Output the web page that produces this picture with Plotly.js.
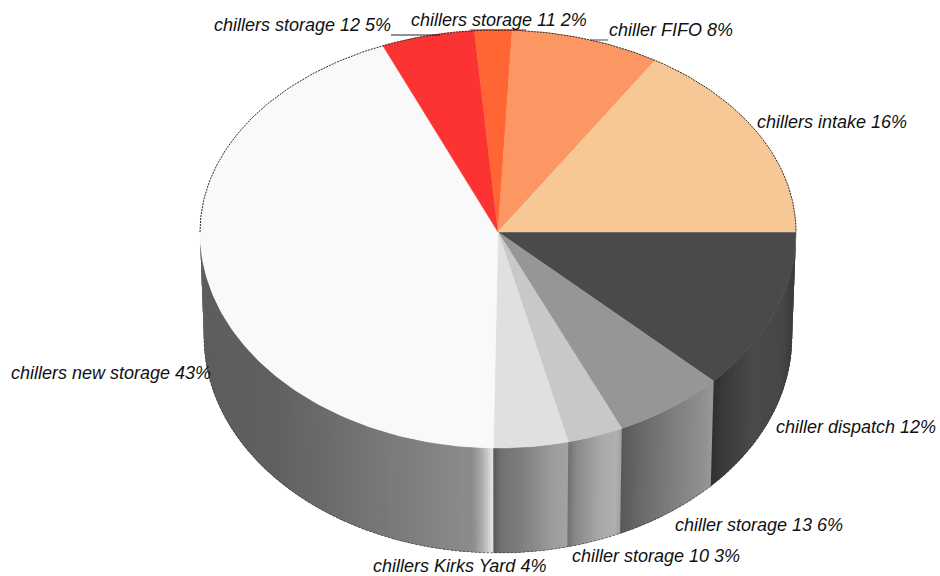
<!DOCTYPE html>
<html>
<head>
<meta charset="utf-8">
<script src="https://cdn.plot.ly/plotly-3.0.1.min.js"></script>
<style>html,body{margin:0;padding:0;background:#fff}#chart{width:940px;height:576px}</style>
</head>
<body>
<div id="chart"></div>
<script>
// Slices, clockwise from three o'clock
const categories = ['chiller dispatch', 'chiller storage 13', 'chiller storage 10', 'chillers Kirks Yard',
  'chillers new storage', 'chillers storage 12', 'chillers storage 11', 'chiller FIFO', 'chillers intake'];
const shares = [12, 6, 3, 4, 43, 5, 2, 8, 16];
const topColors = ['#4a4a4a', '#969696', '#c8c8c8', '#e0e0e0', '#f9f9f9', '#fb3333', '#ff6633', '#fc9663', '#f7c896'];

// Grey ramps for the rim of each front slice: [position left to right, grey level]
const rimRamps = [
  [[0, 0x30], [0.1, 0x38], [0.5, 0x4a], [0.85, 0x48], [1, 0x3a]],
  [[0, 0x58], [0.2, 0x68], [0.6, 0x80], [0.9, 0x90], [1, 0x98]],
  [[0, 0x70], [0.15, 0x88], [0.6, 0xa8], [0.9, 0xb0], [1, 0xa0]],
  [[0, 0x58], [0.1, 0x70], [0.4, 0x80], [0.8, 0x9c], [1, 0xa2]],
  [[0, 0x5e], [0.25, 0x60], [0.5, 0x70], [0.8, 0x84], [0.93, 0x8c], [0.965, 0xb0], [1, 0xe8]]
];

// Label placement on the page-sized axes: left edge and vertical middle
const labelX = [776, 675, 572, 373, 11, 214, 411, 609, 757];
const labelY = [427, 525, 556, 566, 373, 25, 20, 30, 122];

// Pie projection
const cx = 498, cy = 232, rx = 298, ryBack = 202, ryFront = 216, rxFloor = 294, rimDepth = 105;
const rad = d => d * Math.PI / 180;
const arcX = t => cx + rx * Math.cos(rad(t));
const arcY = t => cy + (Math.sin(rad(t)) >= 0 ? ryFront : ryBack) * Math.sin(rad(t));
const floorX = t => cx + rxFloor * Math.cos(rad(t));
const floorY = t => cy + ryFront * Math.sin(rad(t)) + rimDepth;

const total = shares.reduce((a, b) => a + b, 0);
let running = 0;
const edges = [0].concat(shares.map(v => (running += v) / total * 360));

function sweep(a, b, step) {
  const n = Math.max(1, Math.ceil((b - a) / step));
  const out = [];
  for (let i = 0; i <= n; i++) out.push(a + (b - a) * i / n);
  return out;
}
function grey(ramp, u) {
  let g = ramp[ramp.length - 1][1];
  for (let i = 1; i < ramp.length; i++) {
    if (u <= ramp[i][0]) {
      const [u0, g0] = ramp[i - 1], [u1, g1] = ramp[i];
      g = g0 + (g1 - g0) * (u - u0) / (u1 - u0);
      break;
    }
  }
  g = Math.round(g);
  return `rgb(${g},${g},${g})`;
}

const traces = [];

// Rim: narrow bands painted left-going, each overlapping the next so no seams show
rimRamps.forEach((ramp, s) => {
  const a = edges[s], b = Math.min(edges[s + 1], 180);
  const left = arcX(b), right = arcX(a);
  const ts = sweep(a, b, 0.5);
  for (let i = 0; i < ts.length - 1; i++) {
    const t0 = ts[i], t1 = ts[i + 1], t2 = Math.min(t1 + 1, 180);
    const mid = (arcX(t0) + arcX(t1)) / 2;
    const color = grey(ramp, (mid - left) / (right - left));
    traces.push({
      type: 'scatter', mode: 'none', fill: 'toself', fillcolor: color,
      hoverinfo: 'skip', showlegend: false,
      x: [arcX(t0), arcX(t1), arcX(t2), floorX(t2), floorX(t1), floorX(t0), arcX(t0)],
      y: [arcY(t0), arcY(t1), arcY(t2), floorY(t2), floorY(t1), floorY(t0), arcY(t0)]
    });
  }
});

// Top face
shares.forEach((v, s) => {
  const ts = sweep(edges[s], edges[s + 1], 1);
  traces.push({
    type: 'scatter', mode: 'lines', fill: 'toself', fillcolor: topColors[s],
    line: {color: topColors[s], width: 0.5}, name: categories[s], hoverinfo: 'skip', showlegend: false,
    x: [cx].concat(ts.map(arcX), [cx]),
    y: [cy].concat(ts.map(arcY), [cy])
  });
});

// Dotted outline around the back of the pie and the lower rim
const backArc = sweep(180, 360, 1);
traces.push({
  type: 'scatter', mode: 'lines', hoverinfo: 'skip', showlegend: false,
  line: {color: '#2a2a2a', width: 1, dash: '2px,1px'},
  x: backArc.map(arcX), y: backArc.map(arcY)
});
const floorArc = sweep(0, 180, 1);
traces.push({
  type: 'scatter', mode: 'lines', hoverinfo: 'skip', showlegend: false,
  line: {color: '#3a3a3a', width: 0.7, dash: '2px,2px'},
  x: floorArc.map(floorX), y: floorArc.map(floorY)
});

// Leader lines for the three labels along the top
[[[391, 440], [35, 35], '#222'], [[470, 526], [30, 30], '#8a1a00'], [[590, 608], [40, 40], '#444']].forEach(seg => {
  traces.push({
    type: 'scatter', mode: 'lines', hoverinfo: 'skip', showlegend: false,
    line: {color: seg[2], width: 1}, x: seg[0], y: seg[1]
  });
});

const annotations = categories.map((name, i) => ({
  xref: 'x', yref: 'y', x: labelX[i], y: labelY[i], xanchor: 'left', yanchor: 'middle',
  showarrow: false, borderpad: 0, xshift: -1,
  text: `${name} ${shares[i]}%`,
  font: {family: '"Liberation Sans", Arial, sans-serif', size: 18, style: 'italic', color: '#111'}
}));

const hiddenAxis = {visible: false, fixedrange: true, showgrid: false, zeroline: false};
Plotly.newPlot('chart', traces, {
  width: 940, height: 576, margin: {l: 0, r: 0, t: 0, b: 0},
  paper_bgcolor: '#fff', plot_bgcolor: '#fff', showlegend: false,
  xaxis: Object.assign({range: [0, 940]}, hiddenAxis),
  yaxis: Object.assign({range: [576, 0]}, hiddenAxis),
  annotations: annotations
}, {displayModeBar: false, staticPlot: true});
</script>
</body>
</html>
